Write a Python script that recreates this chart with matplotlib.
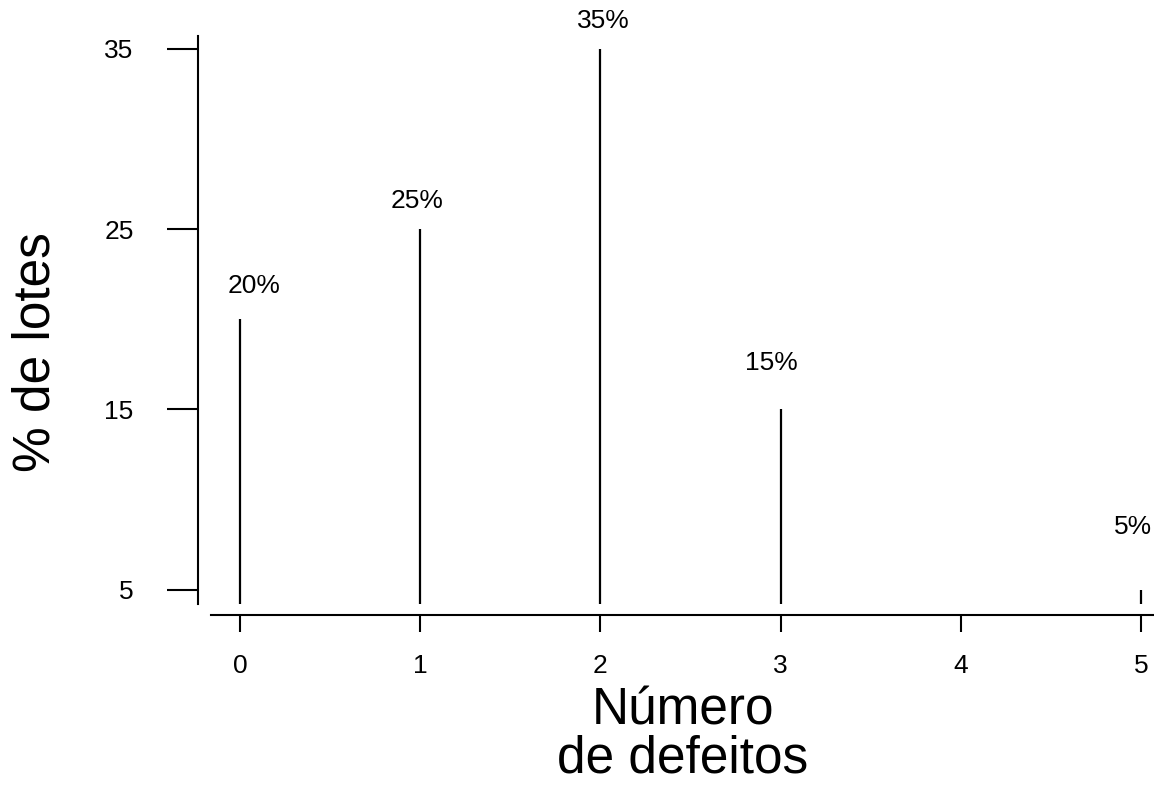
import matplotlib
matplotlib.use("Agg")
import matplotlib.pyplot as plt

# dados
defeitos = [0, 1, 2, 3, 5]
pct_lotes = [20, 25, 35, 15, 5]
rotulos = ["20%", "25%", "35%", "15%", "5%"]
y_ticks = [5, 15, 25, 35]
x_ticks = [0, 1, 2, 3, 4, 5]

# pequenos deslocamentos dos rotulos (como no original)
rot_dx = [0.078, -0.017, 0.017, -0.05, -0.045]
rot_dy = [1.2, 0.9, 0.85, 1.9, 2.8]

plt.rcParams['font.family'] = ['Liberation Sans', 'DejaVu Sans']

W, H = 1154, 785
fig = plt.figure(figsize=(W / 100, H / 100), dpi=100)
ax = fig.add_axes([211 / W, 1 - 604 / H, (W - 211) / W, (604 - 36) / H])

ax.vlines(defeitos, 0, pct_lotes, color='black', linewidth=1.6)
for x, y, t, dx, dy in zip(defeitos, pct_lotes, rotulos, rot_dx, rot_dy):
    ax.text(x + dx, y + dy, t, ha='center', va='bottom', fontsize=19)

ax.set_xlim(-0.161, 5.072)
ax.set_ylim(4.22, 35.7)

for s in ['top', 'right']:
    ax.spines[s].set_visible(False)
ax.spines['left'].set_position(('outward', 9.4))
ax.spines['bottom'].set_position(('outward', 7.9))
ax.spines['left'].set_linewidth(1.5)
ax.spines['bottom'].set_linewidth(1.5)

ax.set_yticks(y_ticks)
ax.set_xticks(x_ticks)
ax.tick_params(axis='y', length=22.3, width=1.5, pad=24, labelsize=19)
ax.tick_params(axis='x', length=12.2, width=1.5, pad=16, labelsize=19)

fig.text(36 / W, 1 - 352 / H, "% de lotes", rotation=90, ha='center', va='center', fontsize=37)
fig.text(683 / W, 1 - 735 / H, "Número\nde defeitos", ha='center', va='center',
         fontsize=37, linespacing=0.95)

fig.savefig("out.png", dpi=100)
